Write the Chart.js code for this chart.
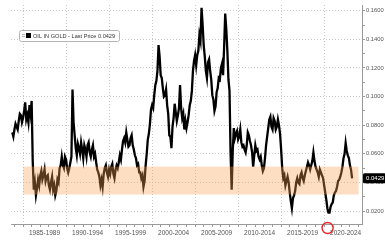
<!DOCTYPE html>
<html lang="en">
<head>
    <meta charset="UTF-8">
    <title>Oil in Gold</title>
    <script src="https://cdn.jsdelivr.net/npm/chart.js"></script>
    <style>
        body {
            margin: 0;
            background: #fff;
            overflow: hidden;
        }
        #wrap {
            width: 385px;
            height: 240px;
        }
    </style>
</head>
<body>
    <div id="wrap"><canvas id="oilChart" width="385" height="240"></canvas></div>

    <script>
        // quarter-end readings, first one is Q4 1983
        const firstQuarter = 1983.75;
        const oilInGold = [
            0.075,
            0.077, 0.079, 0.083, 0.087,
            0.085, 0.096, 0.087, 0.094,
            0.097, 0.035, 0.031, 0.042,
            0.045, 0.042, 0.049, 0.044,
            0.038, 0.040, 0.035, 0.031,
            0.042, 0.050, 0.058, 0.050,
            0.056, 0.047, 0.054, 0.105,
            0.073, 0.059, 0.064, 0.068,
            0.057, 0.063, 0.066, 0.061,
            0.063, 0.058, 0.054, 0.047,
            0.038, 0.037, 0.050, 0.047,
            0.049, 0.051, 0.046, 0.049,
            0.050, 0.059, 0.063, 0.071,
            0.075, 0.065, 0.071, 0.066,
            0.059, 0.052, 0.047, 0.043,
            0.037, 0.052, 0.070, 0.081,
            0.094, 0.101, 0.111, 0.136,
            0.115, 0.106, 0.101, 0.094,
            0.073, 0.064, 0.085, 0.089,
            0.087, 0.108, 0.085, 0.077,
            0.078, 0.087, 0.097, 0.118,
            0.129, 0.129, 0.143, 0.162,
            0.136, 0.118, 0.124, 0.118,
            0.101, 0.090, 0.103, 0.113,
            0.120, 0.115, 0.158, 0.132,
            0.104, 0.035, 0.078, 0.074,
            0.070, 0.077, 0.065, 0.063,
            0.066, 0.073, 0.066, 0.051,
            0.066, 0.063, 0.056, 0.052,
            0.050, 0.066, 0.078, 0.086,
            0.077, 0.083, 0.079, 0.080,
            0.063, 0.043, 0.038, 0.044,
            0.033, 0.022, 0.031, 0.040,
            0.040, 0.045, 0.043, 0.045,
            0.051, 0.052, 0.052, 0.061,
            0.051, 0.047, 0.049, 0.045,
            0.038, 0.028, 0.019, 0.023,
            0.026, 0.033, 0.037, 0.042,
            0.047, 0.057, 0.0675, 0.059,
            0.052, 0.0429
        ];
        // mid-quarter readings (the swings between quarter ends)
        const oilInGoldMid = [
            0.072,
            0.081, 0.077, 0.088, 0.082,
            0.090, 0.084, 0.082, 0.088,
            0.055, 0.040, 0.036, 0.038,
            0.048, 0.045, 0.041, 0.045,
            0.035, 0.044, 0.038, 0.034,
            0.040, 0.052, 0.052, 0.058,
            0.050, 0.050, 0.058, 0.082,
            0.064, 0.067, 0.060, 0.063,
            0.066, 0.058, 0.068, 0.058,
            0.066, 0.060, 0.049, 0.044,
            0.042, 0.046, 0.052, 0.044,
            0.046, 0.053, 0.043, 0.052,
            0.054, 0.056, 0.069, 0.068,
            0.070, 0.066, 0.073, 0.063,
            0.057, 0.053, 0.047, 0.045,
            0.041, 0.060, 0.074, 0.091,
            0.092, 0.108, 0.118, 0.128,
            0.113, 0.100, 0.105, 0.088,
            0.072, 0.079, 0.095, 0.083,
            0.092, 0.092, 0.088, 0.083,
            0.082, 0.094, 0.104, 0.125,
            0.122, 0.132, 0.139, 0.150,
            0.128, 0.113, 0.126, 0.112,
            0.098, 0.093, 0.106, 0.112,
            0.123, 0.135, 0.147, 0.112,
            0.060, 0.062, 0.071, 0.076,
            0.072, 0.068, 0.066, 0.061,
            0.075, 0.069, 0.061, 0.059,
            0.062, 0.058, 0.058, 0.048,
            0.057, 0.072, 0.084, 0.079,
            0.085, 0.077, 0.084, 0.074,
            0.050, 0.045, 0.041, 0.040,
            0.027, 0.029, 0.034, 0.043,
            0.039, 0.047, 0.041, 0.048,
            0.054, 0.049, 0.055, 0.055,
            0.049, 0.044, 0.047, 0.043,
            0.033, 0.022, 0.019, 0.025,
            0.031, 0.034, 0.041, 0.044,
            0.051, 0.060, 0.062, 0.057,
            0.049
        ];

        const periodStarts = [1985, 1990, 1995, 2000, 2005, 2010, 2015, 2020];
        const periodLabels = ["1985-1989", "1990-1994", "1995-1999", "2000-2004",
                              "2005-2009", "2010-2014", "2015-2019", "2020-2024"];
        const bandRange = [0.0316, 0.0511];
        const lastPrice = 0.0429;
        const legendText = "OIL IN GOLD - Last Price 0.0429";

        const points = [];
        oilInGold.forEach((v, i) => {
            points.push({ x: firstQuarter + i * 0.25, y: v });
            if (i < oilInGoldMid.length) points.push({ x: firstQuarter + i * 0.25 + 0.125, y: oilInGoldMid[i] });
        });
        const labelAt = {};
        periodStarts.forEach((y, i) => { labelAt[y + 2.5] = periodLabels[i]; });

        const FONT = "'Liberation Sans', Arial, sans-serif";

        // orange band, painted over the line so the line shows brown through it
        const bandPlugin = {
            id: "band",
            afterDatasetsDraw(chart) {
                const { ctx, scales: { x, y } } = chart;
                const x1 = x.getPixelForValue(1985), x2 = x.getPixelForValue(2024);
                const y1 = y.getPixelForValue(bandRange[1]), y2 = y.getPixelForValue(bandRange[0]);
                ctx.save();
                ctx.fillStyle = "rgba(250, 160, 80, 0.35)";
                ctx.fillRect(x1, y1, x2 - x1, y2 - y1);
                ctx.restore();
            }
        };

        const extrasPlugin = {
            id: "extras",
            afterDraw(chart) {
                const { ctx, chartArea, scales: { x, y } } = chart;
                ctx.save();

                // legend box
                ctx.fillStyle = "#fff";
                ctx.strokeStyle = "#b5b5b5";
                ctx.lineWidth = 1;
                ctx.beginPath();
                ctx.roundRect(19.5, 30.5, 100, 11, 2);
                ctx.fill();
                ctx.stroke();
                ctx.fillStyle = "#bbb";
                ctx.fillRect(22, 34, 3, 1);
                ctx.fillRect(22, 36, 3, 1);
                ctx.fillStyle = "#000";
                ctx.fillRect(26, 33, 5, 5);
                ctx.fillStyle = "#333";
                ctx.font = "5.6px " + FONT;
                ctx.textBaseline = "middle";
                ctx.textAlign = "left";
                ctx.fillText(legendText, 33, 36.3);

                // last price tag
                const py = y.getPixelForValue(lastPrice);
                ctx.fillStyle = "#000";
                ctx.beginPath();
                ctx.roundRect(chartArea.right + 1, py - 5, 23, 10, 1.5);
                ctx.fill();
                ctx.fillStyle = "#fff";
                ctx.font = "6px " + FONT;
                ctx.fillText(lastPrice.toFixed(4), chartArea.right + 4, py + 0.3);

                // red ring under the 2020 low
                ctx.strokeStyle = "#e0262b";
                ctx.lineWidth = 1.4;
                ctx.beginPath();
                ctx.arc(x.getPixelForValue(2020.4), chartArea.bottom + 4, 5.5, 0, Math.PI * 2);
                ctx.stroke();
                ctx.restore();
            }
        };

        new Chart(document.getElementById("oilChart"), {
            type: "line",
            data: {
                datasets: [{
                    label: "OIL IN GOLD",
                    data: points,
                    borderColor: "#000",
                    borderWidth: 2.3,
                    pointRadius: 0,
                    tension: 0
                }]
            },
            options: {
                responsive: false,
                animation: false,
                layout: { padding: { left: 11, top: 5, right: 0, bottom: 0 } },
                plugins: {
                    legend: { display: false },
                    tooltip: { enabled: false }
                },
                scales: {
                    x: {
                        type: "linear",
                        min: 1983.6,
                        max: 2024.4,
                        afterBuildTicks(scale) {
                            const t = [];
                            for (let yr = 1984; yr <= 2024; yr++) t.push({ value: yr });
                            periodStarts.forEach(s => t.push({ value: s + 2.5 }));
                            t.sort((a, b) => a.value - b.value);
                            scale.ticks = t;
                        },
                        afterFit(scale) { scale.height = 16; },
                        grid: {
                            color: c => (c.tick && periodStarts.includes(c.tick.value)) ? "#c8c8c8" : "rgba(0,0,0,0)",
                            tickColor: c => (c.tick && Number.isInteger(c.tick.value)) ? "#9a9a9a" : "rgba(0,0,0,0)",
                            tickLength: 3,
                            lineWidth: 1
                        },
                        border: { display: true, color: "#9a9a9a", dash: [1, 2] },
                        ticks: {
                            autoSkip: false,
                            maxRotation: 0,
                            padding: 2,
                            color: "#555",
                            font: { family: FONT, size: 6.5 },
                            callback: v => labelAt[v] || ""
                        }
                    },
                    y: {
                        position: "right",
                        min: 0.011,
                        max: 0.164,
                        afterBuildTicks(scale) {
                            const t = [];
                            for (let k = 2; k <= 16; k++) t.push({ value: k / 100 });
                            scale.ticks = t;
                        },
                        afterFit(scale) { scale.width = 23; },
                        grid: {
                            color: c => (c.tick && Math.round(c.tick.value * 100) % 2 === 0) ? "#c8c8c8" : "rgba(0,0,0,0)",
                            tickColor: "#9a9a9a",
                            tickLength: 3,
                            lineWidth: 1
                        },
                        border: { display: true, color: "#9a9a9a", dash: [1, 2] },
                        ticks: {
                            padding: 1,
                            color: "#555",
                            font: { family: FONT, size: 5.8 },
                            callback: v => (Math.round(v * 100) % 2 === 0) ? v.toFixed(4) : ""
                        }
                    }
                }
            },
            plugins: [bandPlugin, extrasPlugin]
        });
    </script>
</body>
</html>
